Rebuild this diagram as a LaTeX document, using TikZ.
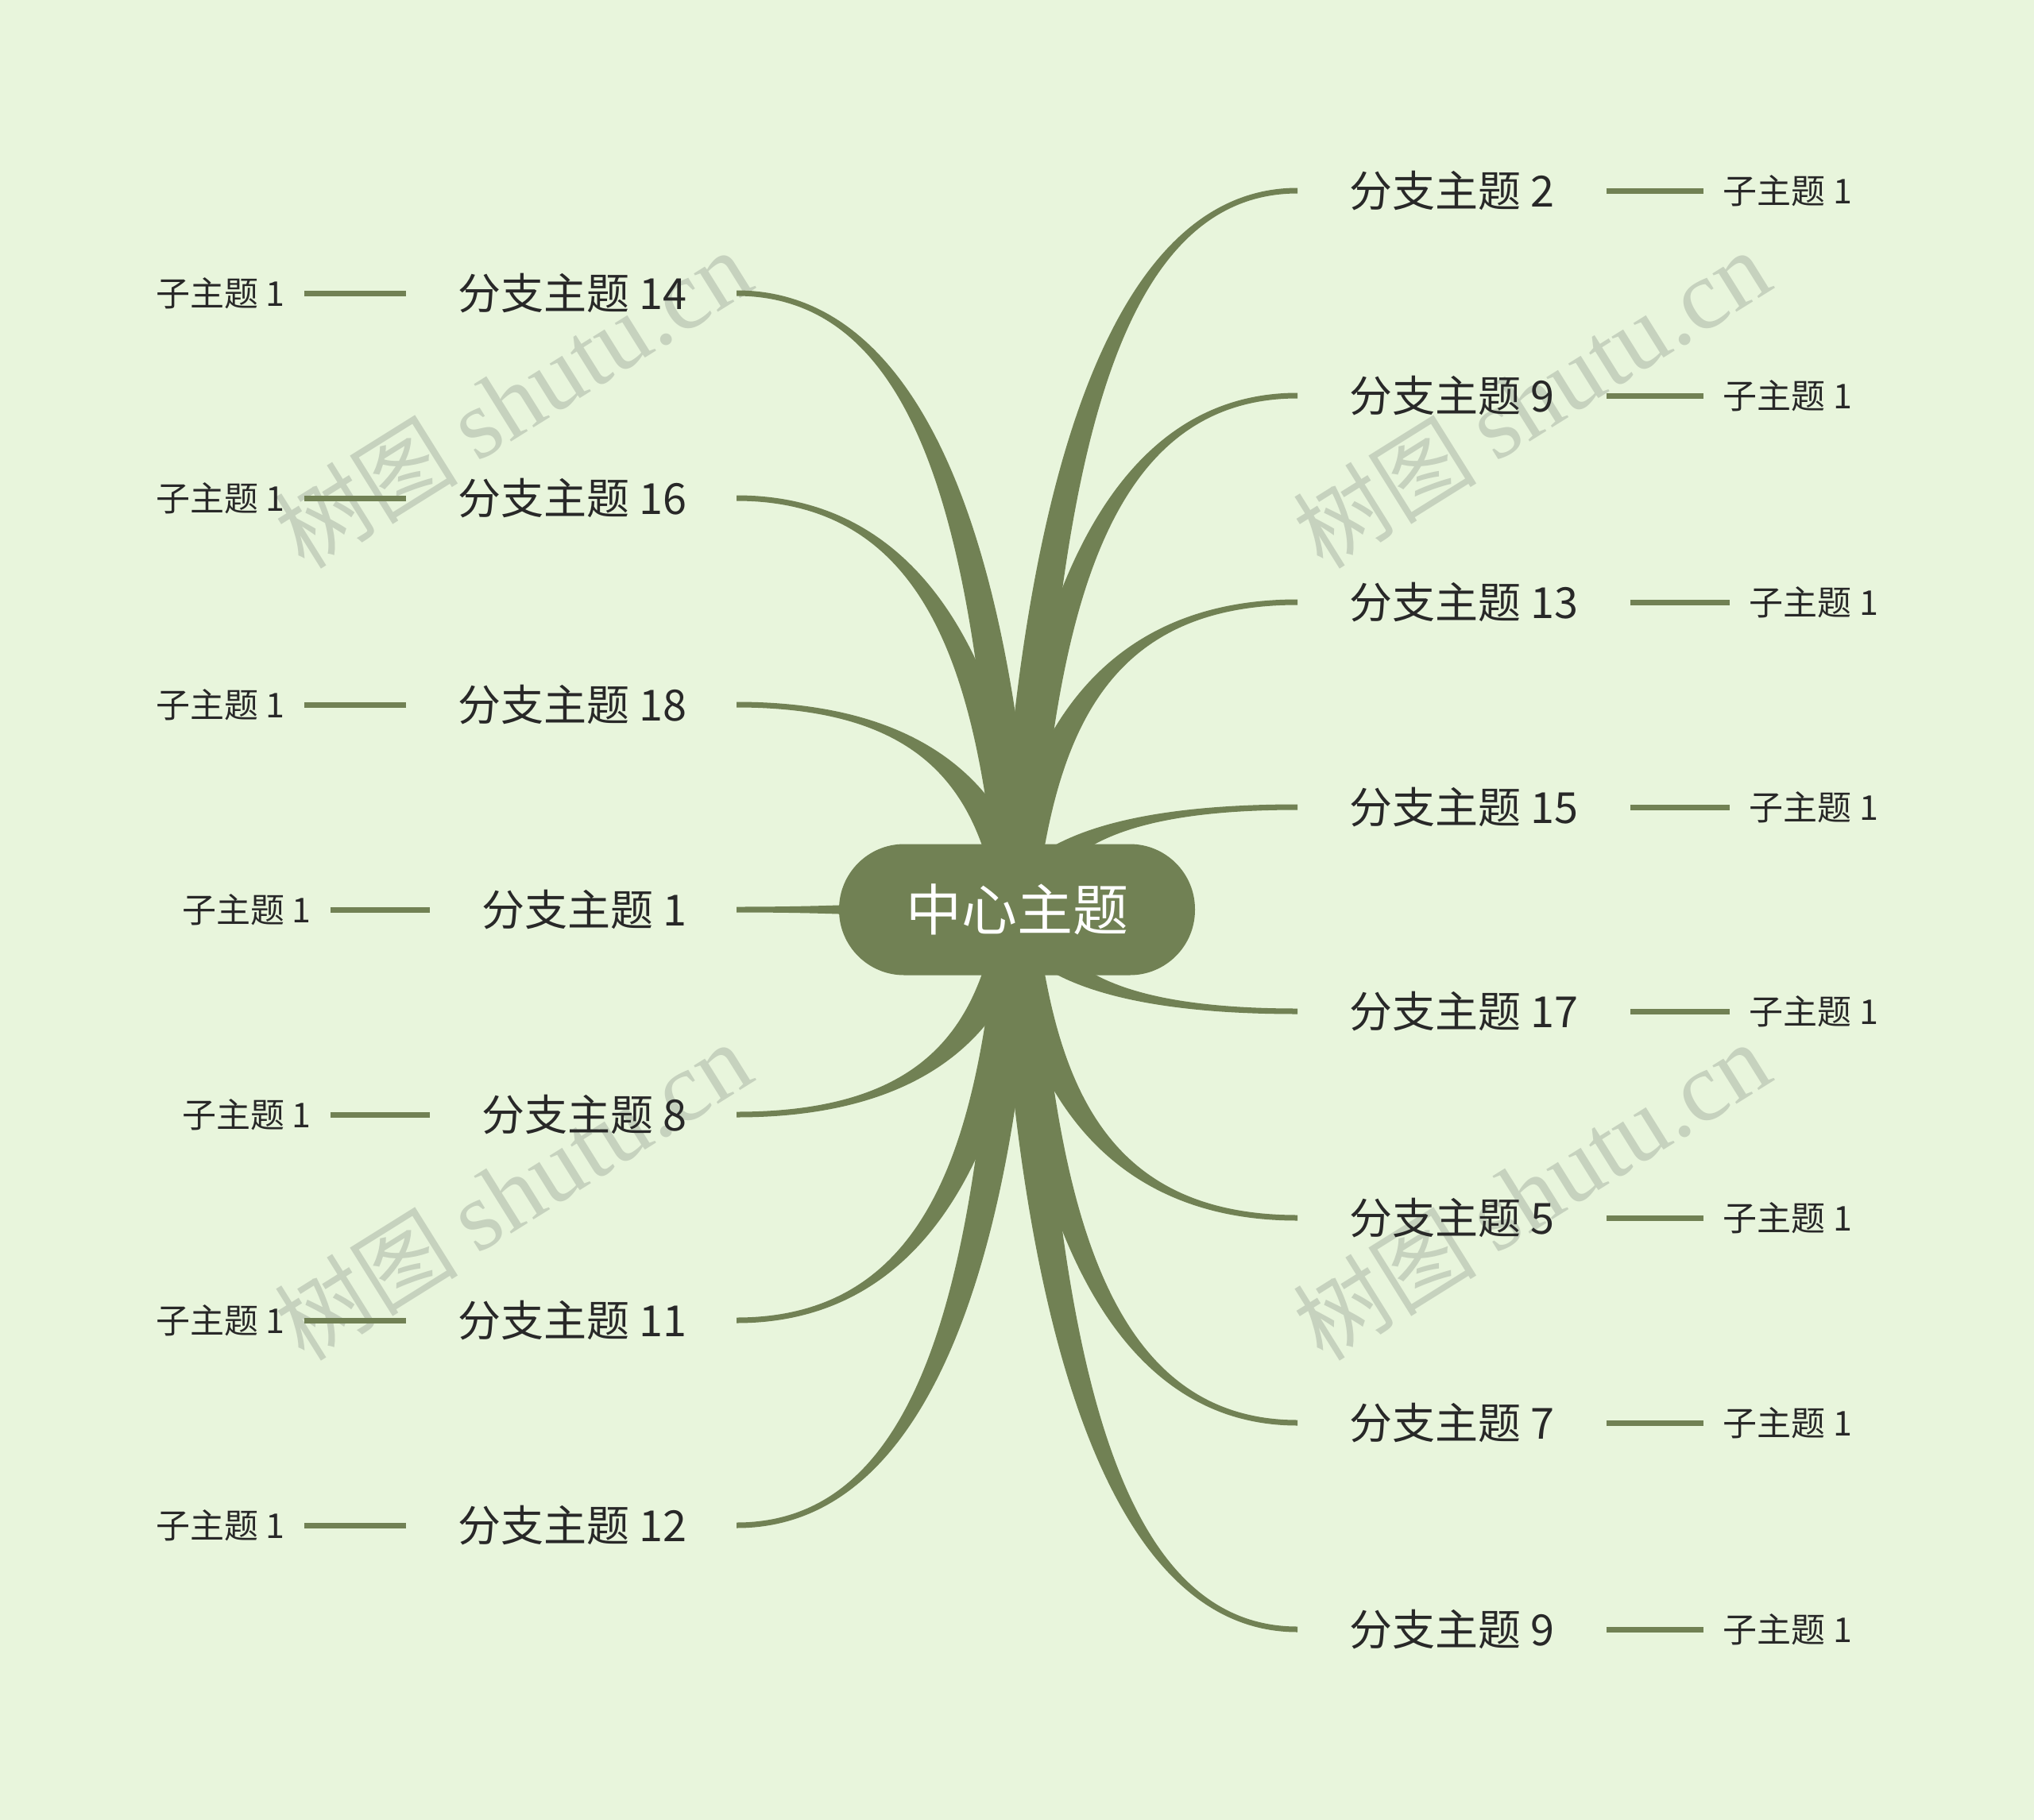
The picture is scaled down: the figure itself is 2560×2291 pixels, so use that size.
\documentclass[tikz,border=0pt]{standalone}
\usepackage{fontspec}
\setmainfont{Noto Sans CJK SC}
\newfontfamily\wmserif{Liberation Serif}
\newfontfamily\wmcjk{Noto Sans CJK SC}
\definecolor{bgcol}{RGB}{232,245,220}
\definecolor{brcol}{RGB}{113,129,84}
\definecolor{txtcol}{RGB}{40,40,40}
\definecolor{wmcol}{RGB}{198,210,190}
\newcommand\mbranch[2]{%
 \pgfmathsetmacro\bdx{#1-1280}%
 \pgfmathsetmacro\bdy{#2-1145}%
 \pgfmathsetmacro\btx{0.0007*\bdx}%
 \pgfmathsetmacro\bty{0.0055*\bdy}%
 \pgfmathsetmacro\btl{sqrt(\btx*\btx+\bty*\bty)}%
 \pgfmathsetmacro\bnx{-23*\bty/\btl}%
 \pgfmathsetmacro\bny{23*\btx/\btl}%
 \pgfmathsetmacro\bax{1280+0.07*\bdx}%
 \pgfmathsetmacro\bay{1145+0.55*\bdy}%
 \pgfmathsetmacro\bbx{1280+0.3*\bdx}%
 \pgfmathsetmacro\brE{3.5*sign(\bdx)}%
 \fill[brcol] ({1280+\bnx},{1145+\bny}) .. controls ({\bax+\bnx},{\bay+\bny}) and (\bbx,{#2+\brE}) .. (#1,{#2+\brE}) -- (#1,{#2-\brE}) .. controls (\bbx,{#2-\brE}) and ({\bax-(\bnx)},{\bay-(\bny)}) .. ({1280-(\bnx)},{1145-(\bny)}) -- cycle;
}
\tikzset{
 bnode/.style={inner sep=0pt, text=txtcol, font=\fontsize{27}{30}\selectfont},
 snode/.style={inner sep=0pt, text=txtcol, font=\fontsize{21.5}{24}\selectfont},
 subline/.style={draw=brcol, line width=3.5pt},
 rsub/.style={subline, shorten <=32.5pt, shorten >=12pt},
 wm/.style={text=wmcol, rotate=32, inner sep=0pt},
 centernode/.style={fill=brcol, text=white, rounded corners=41pt, minimum width=224pt, minimum height=82.5pt, inner sep=0pt, font=\fontsize{35}{40}\selectfont}
}
\begin{document}
\begin{tikzpicture}[x=0.5pt,y=-0.5pt]
\fill[bgcol] (0,0) rectangle (2560,2291);
\useasboundingbox (0,0) rectangle (2560,2291);
% watermarks
\foreach \wx/\wy [count=\i] in {645/503, 1927/503, 645/1500, 1927/1500}
  \node[wm] (wm\i) at (\wx,\wy) {{\wmcjk\fontsize{58}{64}\selectfont 树图}\hspace{12pt}{\wmserif\fontsize{62}{66}\selectfont shutu.cn}};
% branches
\foreach \ex/\ey in {1633/240, 1633/498, 1633/758, 1633/1016, 1633/1273, 1633/1533, 1633/1791, 1633/2051,
                     927/369, 927/627, 927/887, 927/1145, 927/1403, 927/1662, 927/1920}
  {\mbranch{\ex}{\ey}}
% center
\node[centernode] (c) at (1280,1145) {中心主题};
% right branch topics
\node[bnode, anchor=west] (r1) at (1698,240) {分支主题 2};
\node[bnode, anchor=west] (r2) at (1698,498) {分支主题 9};
\node[bnode, anchor=west] (r3) at (1698,758) {分支主题 13};
\node[bnode, anchor=west] (r4) at (1698,1016) {分支主题 15};
\node[bnode, anchor=west] (r5) at (1698,1273) {分支主题 17};
\node[bnode, anchor=west] (r6) at (1698,1533) {分支主题 5};
\node[bnode, anchor=west] (r7) at (1698,1791) {分支主题 7};
\node[bnode, anchor=west] (r8) at (1698,2051) {分支主题 9};
% right subtopics
\node[snode, anchor=west] (rs1) at (2168,240) {子主题 1};
\node[snode, anchor=west] (rs2) at (2168,498) {子主题 1};
\node[snode, anchor=west] (rs3) at (2201,758) {子主题 1};
\node[snode, anchor=west] (rs4) at (2201,1016) {子主题 1};
\node[snode, anchor=west] (rs5) at (2201,1273) {子主题 1};
\node[snode, anchor=west] (rs6) at (2168,1533) {子主题 1};
\node[snode, anchor=west] (rs7) at (2168,1791) {子主题 1};
\node[snode, anchor=west] (rs8) at (2168,2051) {子主题 1};
\foreach \i in {1,...,8}
  \draw[rsub] (r\i.east) -- (rs\i.west);
% left branch topics
\node[bnode, anchor=east] (l1) at (865,369) {分支主题 14};
\node[bnode, anchor=east] (l2) at (865,627) {分支主题 16};
\node[bnode, anchor=east] (l3) at (865,887) {分支主题 18};
\node[bnode, anchor=east] (l4) at (865,1145) {分支主题 1};
\node[bnode, anchor=east] (l5) at (865,1403) {分支主题 8};
\node[bnode, anchor=east] (l6) at (865,1662) {分支主题 11};
\node[bnode, anchor=east] (l7) at (865,1920) {分支主题 12};
% left subtopics
\node[snode, anchor=east] (ls1) at (359,369) {子主题 1};
\node[snode, anchor=east] (ls2) at (359,627) {子主题 1};
\node[snode, anchor=east] (ls3) at (359,887) {子主题 1};
\node[snode, anchor=east] (ls4) at (392,1145) {子主题 1};
\node[snode, anchor=east] (ls5) at (392,1403) {子主题 1};
\node[snode, anchor=east] (ls6) at (359,1662) {子主题 1};
\node[snode, anchor=east] (ls7) at (359,1920) {子主题 1};
\foreach \i in {1,...,7}
  \draw[rsub] (l\i.west) -- (ls\i.east);
\end{tikzpicture}
\end{document}
